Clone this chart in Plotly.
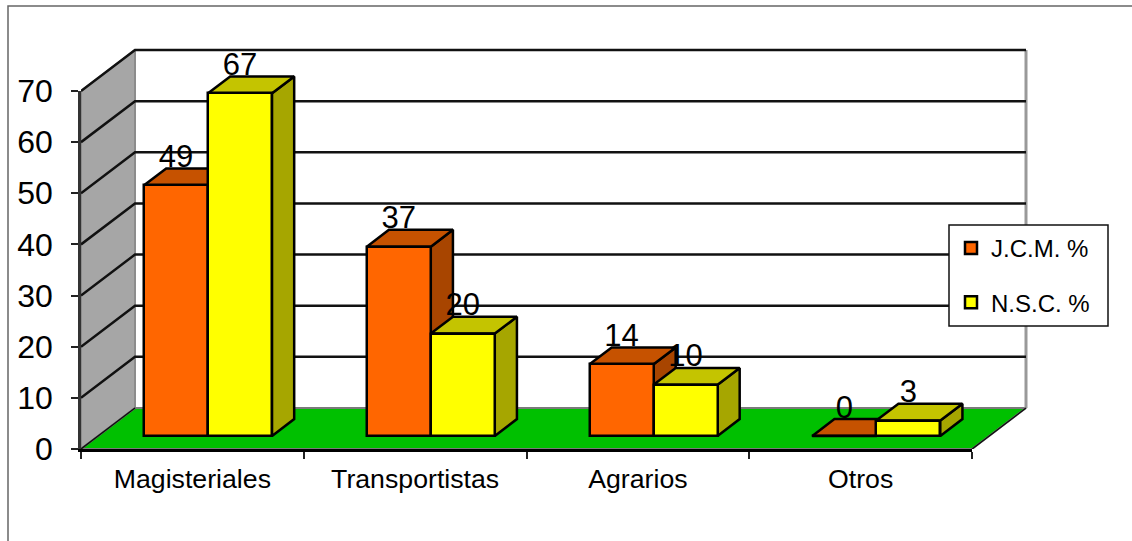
import plotly.graph_objects as go

categories = ["Magisteriales", "Transportistas", "Agrarios", "Otros"]
jcm = [49, 37, 14, 0]
nsc = [67, 20, 10, 3]
y_ticks = [0, 10, 20, 30, 40, 50, 60, 70]
series_names = ["J.C.M. %", "N.S.C. %"]

FONT = "Liberation Sans"
PX_X = 222.75          # pixels per category
PX_Y = 358 / 70        # pixels per unit
WALL_DX = 54 / PX_X    # wall depth in category units
WALL_DY = 41 / PX_Y    # wall depth in value units
BAR_W = 64 / PX_X
FRONT_X = 0.29         # bar front position inside the floor depth (x)
FRONT_Y = 0.32         # bar front position inside the floor depth (y)
DEPTH = 0.41           # bar depth as a fraction of the floor depth
X_MAX = 4 + WALL_DX
Y_MAX = 70 + WALL_DY
PAD = 6                # spare pixels at top and right so edge lines are not clipped
PLOT_W = 945 + PAD
PLOT_H = 399 + PAD
X_TOP = X_MAX + PAD / PX_X
Y_TOP = Y_MAX + PAD / PX_Y


def poly_trace(xs, ys, fill, line="black", width=2.5):
    return go.Scatter(x=xs, y=ys, mode="lines", fill="toself", fillcolor=fill,
                      line=dict(color=line, width=width), showlegend=False,
                      hoverinfo="skip")


def line_trace(xs, ys, color="#111111", width=2.5):
    return go.Scatter(x=xs, y=ys, mode="lines", line=dict(color=color, width=width),
                      showlegend=False, hoverinfo="skip")


def paper_x(px):
    return (px - 81) / PLOT_W


def paper_y(px):
    return (449 - px) / PLOT_H


fig = go.Figure()

# walls and floor
fig.add_trace(poly_trace([0, WALL_DX, WALL_DX, 0, 0], [0, WALL_DY, Y_MAX, 70, 0], "#A6A6A6", "#8C8C8C", 2))
fig.add_trace(poly_trace([0, WALL_DX, X_MAX, 4, 0], [0, WALL_DY, WALL_DY, 0, 0], "#00C000", "#7A7A7A", 2))
fig.add_trace(line_trace([X_MAX, X_MAX], [WALL_DY, Y_MAX], "#999999", 3))
for t in y_ticks[1:]:
    fig.add_trace(line_trace([0, WALL_DX, X_MAX], [t, t + WALL_DY, t + WALL_DY]))
fig.add_trace(line_trace([0, WALL_DX], [0, WALL_DY], "#111111", 1.5))
fig.add_trace(line_trace([4, X_MAX], [0, WALL_DY], "#111111", 1.5))

fx = FRONT_X * WALL_DX
fy = FRONT_Y * WALL_DY
ddx = DEPTH * WALL_DX
ddy = DEPTH * WALL_DY
gap = (1 - 2 * BAR_W) / 2


def bar_left(i, s):
    return i + gap + fx + s * BAR_W


series = [(jcm, "#FF6600", "#C65200", "#A84500"), (nsc, "#FFFF00", "#C4C400", "#A6A600")]

# top and side faces, behind the front faces
for s, (vals, front, top, side) in enumerate(series):
    tx, ty, sx, sy = [], [], [], []
    for i, v in enumerate(vals):
        x0 = bar_left(i, s)
        x1 = x0 + BAR_W
        y1 = fy + v
        tx += [x0, x0 + ddx, x1 + ddx, x1, x0, None]
        ty += [y1, y1 + ddy, y1 + ddy, y1, y1, None]
        if v > 0:
            sx += [x1, x1 + ddx, x1 + ddx, x1, x1, None]
            sy += [fy, fy + ddy, y1 + ddy, y1, fy, None]
    if sx:
        fig.add_trace(poly_trace(sx, sy, side))
    fig.add_trace(poly_trace(tx, ty, top))

# front faces on an overlaid axis pair so they paint over the side faces
for s, (vals, front, top, side) in enumerate(series):
    fig.add_trace(go.Bar(
        x=[bar_left(i, s) + BAR_W / 2 for i in range(len(vals))],
        y=vals, base=fy, width=BAR_W, name=series_names[s], legendgroup=series_names[s],
        marker=dict(color=front, line=dict(color="black", width=2.5)),
        xaxis="x2", yaxis="y2", hoverinfo="skip",
    ))

LABEL_UP = 26 / PX_Y
for s, (vals, *_rest) in enumerate(series):
    fig.add_trace(go.Scatter(
        x=[bar_left(i, s) + BAR_W / 2 for i in range(len(vals))],
        y=[fy + v + LABEL_UP for v in vals],
        text=[str(v) for v in vals], mode="text", textposition="middle center",
        textfont=dict(family=FONT, size=31, color="black"),
        showlegend=False, hoverinfo="skip", cliponaxis=False,
        xaxis="x2", yaxis="y2",
    ))

# the visible axes: they span only the front edge of the floor and the left wall
fig.add_trace(go.Scatter(x=[0], y=[0], mode="markers", marker=dict(opacity=0),
                         showlegend=False, hoverinfo="skip", xaxis="x3", yaxis="y3"))

fig.update_layout(
    width=1132, height=541, autosize=False,
    margin=dict(l=81, r=106 - PAD, t=50 - PAD, b=92, pad=0, autoexpand=False),
    paper_bgcolor="white", plot_bgcolor="rgba(0,0,0,0)",
    barmode="overlay", bargap=0,
    font=dict(family=FONT, color="black"),
    xaxis=dict(range=[0, X_TOP], visible=False),
    yaxis=dict(range=[0, Y_TOP], visible=False),
    xaxis2=dict(range=[0, X_TOP], overlaying="x", visible=False),
    yaxis2=dict(range=[0, Y_TOP], overlaying="y", visible=False),
    xaxis3=dict(
        domain=[0, 891 / PLOT_W], anchor="y3", range=[0, 4],
        showgrid=False, zeroline=False, showline=True, linecolor="black", linewidth=3,
        tickmode="array", tickvals=[0.5, 1.5, 2.5, 3.5], ticktext=categories,
        ticks="", tickfont=dict(family=FONT, size=26.7, color="black"),
        ticklabelstandoff=4,
        minor=dict(tickmode="array", tickvals=[0, 1, 2, 3, 4], ticks="outside",
                   ticklen=7, tickwidth=1.5, tickcolor="#222222"),
    ),
    yaxis3=dict(
        domain=[0, 358 / PLOT_H], anchor="x3", range=[0, 70],
        showgrid=False, zeroline=False, showline=True, linecolor="#333333", linewidth=2.5,
        tickmode="array", tickvals=y_ticks, ticks="outside", ticklen=7,
        tickwidth=1.5, tickcolor="#222222",
        tickfont=dict(family=FONT, size=32, color="black"), ticklabelstandoff=12,
    ),
    legend=dict(
        x=paper_x(949), y=paper_y(226), xanchor="left", yanchor="top",
        bgcolor="rgba(0,0,0,0)", borderwidth=0,
        font=dict(family=FONT, size=24, color="black"),
        tracegroupgap=20, traceorder="grouped", indentation=2,
    ),
    shapes=[
        dict(type="rect", xref="paper", yref="paper", layer="below",
             x0=paper_x(8), x1=paper_x(1140), y0=paper_y(550), y1=paper_y(6),
             line=dict(color="#666666", width=1.5), fillcolor="white"),
        # legend panel: the legend's own box cannot be widened to the reference's size
        dict(type="rect", xref="paper", yref="paper", layer="above",
             x0=paper_x(949), x1=paper_x(1108), y0=paper_y(326), y1=paper_y(225),
             line=dict(color="#111111", width=1.5), fillcolor="white"),
    ],
)

fig.write_html("out.html", config=dict(displayModeBar=False),
               post_script="document.body.style.margin='0';")
